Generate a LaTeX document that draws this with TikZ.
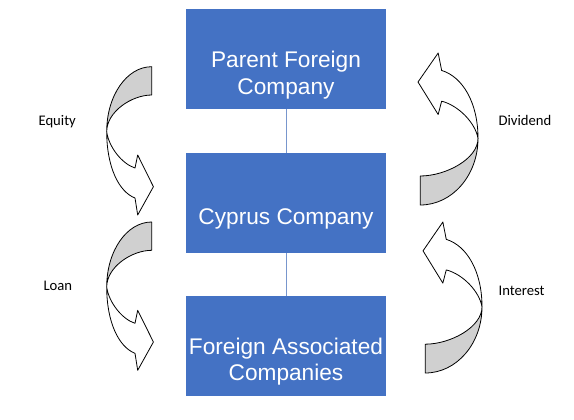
\documentclass[tikz,border=0pt]{standalone}
\usepackage{fontspec}
\setmainfont{Liberation Sans}
\newfontfamily\notefont{Carlito}
\definecolor{boxblue}{RGB}{68,114,196}
\definecolor{linkblue}{RGB}{120,150,205}
\definecolor{backgrey}{RGB}{208,208,208}
\tikzset{
  box/.style={fill=boxblue,minimum width=150pt,minimum height=75pt,inner sep=0pt},
  boxtext/.style={text=white,align=center,font=\fontsize{17}{20}\selectfont,inner sep=0pt},
  note/.style={font=\notefont\fontsize{11}{13}\selectfont,inner sep=0pt},
  link/.style={draw=linkblue,line width=0.75pt},
  twist/.style={draw=black,line width=0.6pt,line join=round}
}
% one curved arrow, drawn in pixel units from its top left corner
\newcommand{\twistarrow}{%
  \filldraw[twist,fill=backgrey] (45,0) .. controls (20,0) and (0,29) .. (0,65)
    .. controls (0,45) and (25,28.3) .. (45,28.3) -- cycle;
  \filldraw[twist,fill=white] (0,65) .. controls (0,100) and (12,125) .. (28.3,131.3)
    -- (31,148.3) -- (46.7,120) -- (31,88.3) -- (28.3,101.3)
    .. controls (15,97) and (2,80) .. (0,65) -- cycle;
}

\begin{document}
\begin{tikzpicture}[x=0.75pt,y=-0.75pt]
    \useasboundingbox (0,0) rectangle (574,419);
    % boxes
    \node[box] (parent) at (286,59) {};
    \node[box] (cyprus) at (286,203) {};
    \node[box] (assoc) at (286,346) {};
    \node[boxtext] (parenttxt) at (286,75) {Parent Foreign\\Company};
    \node[boxtext] (cyprustxt) at (286,219) {Cyprus Company};
    \node[boxtext] (assoctxt) at (286,361.5) {Foreign Associated\\Companies};
    \draw[link] (parent) -- (cyprus);
    \draw[link] (cyprus) -- (assoc);
    % curved arrows
    \begin{scope}[shift={(106.7,66.7)}]
        \twistarrow
    \end{scope}
    \begin{scope}[shift={(106.7,222)}]
        \twistarrow
    \end{scope}
    \begin{scope}[shift={(478,205)},xscale=-1.285,yscale=-1.025]
        \twistarrow
    \end{scope}
    \begin{scope}[shift={(482,373)},xscale=-1.263,yscale=-1.018]
        \twistarrow
    \end{scope}
    % labels
    \draw(38.3,125) node[note,anchor=base west] (equity) {Equity};
    \draw(498.3,125) node[note,anchor=base west] (dividend) {Dividend};
    \draw(43.3,290.7) node[note,anchor=base west] (loan) {Loan};
    \draw(498.3,295.7) node[note,anchor=base west] (interest) {Interest};
\end{tikzpicture}
\end{document}
